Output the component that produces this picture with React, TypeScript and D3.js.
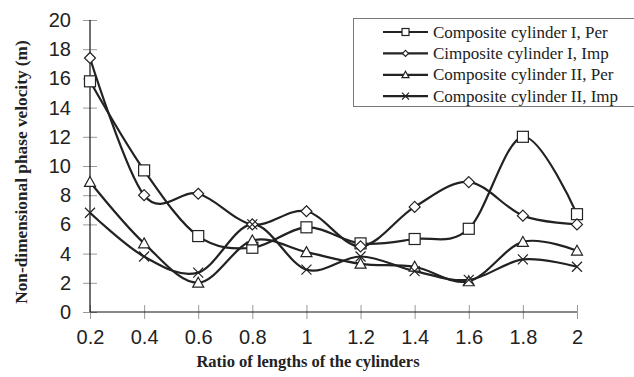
import React, { useEffect, useRef } from 'react'
import * as d3 from 'd3'

const ratios = [0.2, 0.4, 0.6, 0.8, 1, 1.2, 1.4, 1.6, 1.8, 2]
const yTicks = [0, 2, 4, 6, 8, 10, 12, 14, 16, 18, 20]

const seriesNames = [
  'Composite cylinder I, Per',
  'Cimposite cylinder I, Imp',
  'Composite cylinder II, Per',
  'Composite cylinder II, Imp',
]
const cylIPer = [15.8, 9.7, 5.2, 4.4, 5.8, 4.7, 5.0, 5.7, 12.0, 6.7]
const cylIImp = [17.4, 8.0, 8.1, 6.0, 6.9, 4.5, 7.2, 8.9, 6.6, 6.0]
const cylIIPer = [8.9, 4.7, 2.0, 4.9, 4.1, 3.3, 3.1, 2.1, 4.8, 4.2]
const cylIIImp = [6.8, 3.8, 2.7, 6.0, 2.9, 3.8, 2.8, 2.2, 3.6, 3.1]
const markers = ['square', 'diamond', 'triangle', 'cross']

const W = 634
const H = 377
const margin = { top: 20, right: 57, bottom: 65, left: 90 }

function drawMarker(g: any, kind: string, cx: number, cy: number, s: number) {
  const h = s / 2
  if (kind === 'square') {
    g.append('rect').attr('x', cx - h).attr('y', cy - h).attr('width', s).attr('height', s)
      .attr('fill', 'white').attr('stroke', '#222').attr('stroke-width', 1.2)
  } else if (kind === 'diamond') {
    g.append('path').attr('d', `M${cx},${cy - h}L${cx + h},${cy}L${cx},${cy + h}L${cx - h},${cy}Z`)
      .attr('fill', 'white').attr('stroke', '#222').attr('stroke-width', 1.2)
  } else if (kind === 'triangle') {
    g.append('path').attr('d', `M${cx},${cy - h}L${cx + h},${cy + h * 0.8}L${cx - h},${cy + h * 0.8}Z`)
      .attr('fill', 'white').attr('stroke', '#222').attr('stroke-width', 1.2)
  } else {
    g.append('path').attr('d', `M${cx - h},${cy - h}L${cx + h},${cy + h}M${cx + h},${cy - h}L${cx - h},${cy + h}`)
      .attr('fill', 'none').attr('stroke', '#222').attr('stroke-width', 1.2)
  }
}

export default function App() {
  const ref = useRef<SVGSVGElement>(null)

  useEffect(() => {
    const svg = d3.select(ref.current)
    svg.selectAll('*').remove()

    const x = d3.scaleLinear().domain([0.2, 2]).range([margin.left, W - margin.right])
    const y = d3.scaleLinear().domain([0, 20]).range([H - margin.bottom, margin.top])
    const allSeries = [cylIPer, cylIImp, cylIIPer, cylIIImp]

    // axes: black line, grey cross ticks
    const yAxis = svg.append('g').attr('transform', `translate(${margin.left},0)`)
      .call(d3.axisLeft(y).tickValues(yTicks).tickSize(7).tickFormat(d3.format('d')))
    yAxis.select('.domain').remove()
    yAxis.selectAll('.tick line').attr('x2', -7).attr('x1', 7).attr('stroke', '#999')
    yAxis.selectAll('.tick text').attr('x', -19).attr('font-size', 20)
      .attr('font-family', 'Liberation Sans, Arial, sans-serif').attr('fill', '#222')

    const xAxis = svg.append('g').attr('transform', `translate(0,${H - margin.bottom})`)
      .call(d3.axisBottom(x).tickValues(ratios).tickSize(7).tickFormat(d3.format('')))
    xAxis.select('.domain').remove()
    xAxis.selectAll('.tick line').attr('y1', -7).attr('y2', 7).attr('stroke', '#999')
    xAxis.selectAll('.tick text').attr('y', 18).attr('font-size', 20)
      .attr('font-family', 'Liberation Sans, Arial, sans-serif').attr('fill', '#222')

    svg.append('line').attr('x1', margin.left).attr('x2', margin.left)
      .attr('y1', y(20)).attr('y2', y(0)).attr('stroke', '#111').attr('stroke-width', 1.2)
    svg.append('line').attr('x1', margin.left).attr('x2', x(2))
      .attr('y1', y(0)).attr('y2', y(0)).attr('stroke', '#111').attr('stroke-width', 1.2)

    const line = d3.line<number>()
      .x((d, i) => x(ratios[i]))
      .y(d => y(d))
      .curve(d3.curveCardinal.tension(0))

    allSeries.forEach((s) => {
      svg.append('path').attr('d', line(s)).attr('fill', 'none')
        .attr('stroke', '#222').attr('stroke-width', 2.2)
    })
    allSeries.forEach((s, k) => {
      const g = svg.append('g')
      s.forEach((v, i) => drawMarker(g, markers[k], x(ratios[i]), y(v), k === 3 ? 10 : 11))
    })

    // legend
    const lg = svg.append('g')
    lg.append('rect').attr('x', 353.5).attr('y', 18.5).attr('width', 300).attr('height', 88)
      .attr('fill', 'white').attr('stroke', '#777').attr('stroke-width', 1)
    seriesNames.forEach((name, k) => {
      const cy = 32 + k * 21.4
      lg.append('line').attr('x1', 383).attr('x2', 428).attr('y1', cy).attr('y2', cy)
        .attr('stroke', '#222').attr('stroke-width', 2.2)
      drawMarker(lg, markers[k], 405.5, cy, k === 1 ? 6 : 7)
      lg.append('text').attr('x', 433).attr('y', cy + 5.5).text(name)
        .attr('font-family', 'Liberation Serif, Times New Roman, serif').attr('font-size', 17)
        .attr('fill', '#222')
    })

    // titles
    svg.append('text').attr('x', 308).attr('y', 367).attr('text-anchor', 'middle')
      .attr('font-family', 'Liberation Serif, Times New Roman, serif').attr('font-weight', 'bold')
      .attr('font-size', 16.5).attr('fill', '#222').text('Ratio of lengths of the cylinders')
    svg.append('text').attr('transform', 'translate(26.5,172) rotate(-90)').attr('text-anchor', 'middle')
      .attr('font-family', 'Liberation Serif, Times New Roman, serif').attr('font-weight', 'bold')
      .attr('font-size', 17.3).attr('fill', '#222').text('Non-dimensional phase velocity (m)')
  }, [])

  return (
    <svg ref={ref} width={W} height={H}
      style={{ position: 'absolute', left: 0, top: 0, background: 'white' }} />
  )
}
